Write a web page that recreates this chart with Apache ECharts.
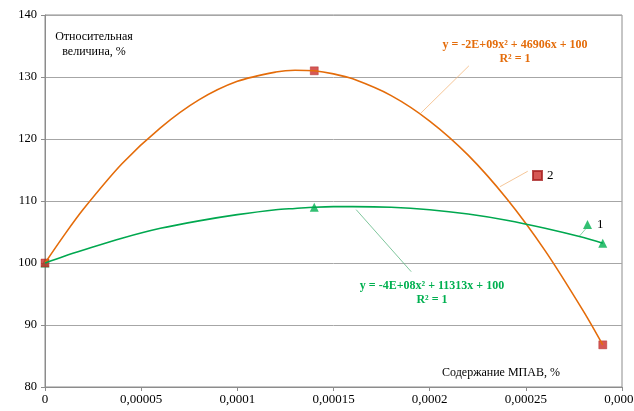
<!DOCTYPE html>
<html>
<head>
<meta charset="utf-8">
<script src="https://cdn.jsdelivr.net/npm/echarts@6/dist/echarts.min.js"></script>
<style>
html,body{margin:0;padding:0;background:#fff;}
#chart{width:634px;height:411px;}
</style>
</head>
<body>
<div id="chart"></div>
<script>
// Measured data points
var points1 = [[0, 100], [0.00014, 109], [0.00029, 103.2]];
var points2 = [[0, 100], [0.00014, 131], [0.00029, 86.8]];
// Trend curves
var trendX  = [0, 0.00001, 0.00002, 0.00004, 0.00006, 0.00008, 0.0001, 0.00012, 0.00013, 0.00014, 0.00015, 0.00016, 0.00018, 0.0002, 0.00022, 0.00024, 0.00026, 0.00028, 0.00029];
var trend1Y = [100, 101.1, 102.1, 104.0, 105.6, 106.8, 107.8, 108.6, 108.8, 109.0, 109.1, 109.1, 109.0, 108.6, 107.9, 106.9, 105.6, 104.1, 103.2];
var trend2Y = [100, 104.5, 108.7, 116.0, 121.8, 126.3, 129.3, 130.8, 131.1, 131.0, 130.5, 129.7, 127.0, 122.9, 117.4, 110.4, 102.0, 92.2, 86.8];
// Tick labels
var xTickLabels = ['0', '0,00005', '0,0001', '0,00015', '0,0002', '0,00025', '0,0003'];
var yTickLabels = ['80', '90', '100', '110', '120', '130', '140'];
// Leader lines (data coordinates)
var leaderEq2 = [[0.0002204, 131.8], [0.0001955, 124.2]];
var leaderLeg2 = [[0.000251, 114.8], [0.0002365, 112.3]];
var leaderLeg1 = [[0.0002811, 105.5], [0.0002775, 104.2]];
var leaderEq1 = [[0.0001618, 108.6], [0.0001904, 98.6]];

var FONT = 'Liberation Serif';
var ORANGE = '#E46C0A';
var GREEN = '#00A84F';

function zip(xs, ys) { return xs.map(function (x, i) { return [x, ys[i]]; }); }

var chart = echarts.init(document.getElementById('chart'), null, {renderer: 'canvas'});
chart.setOption({
  animation: false,
  backgroundColor: '#fff',
  grid: {left: 45, right: 12, top: 15, bottom: 24, outerBoundsMode: 'none', containLabel: false,
    show: true, borderColor: '#8c8c8c', borderWidth: 1, backgroundColor: 'transparent'},
  xAxis: {
    type: 'value', min: 0, max: 0.0003, interval: 0.00005,
    axisLine: {lineStyle: {color: '#8c8c8c'}},
    axisTick: {show: true, length: 4, lineStyle: {color: '#8c8c8c'}},
    splitLine: {show: false},
    axisLabel: {
      fontFamily: FONT, fontSize: 13, color: '#000', margin: 6, hideOverlap: false,
      formatter: function (v) { return xTickLabels[Math.round(v / 0.00005)]; }
    }
  },
  yAxis: {
    type: 'value', min: 80, max: 140, interval: 10,
    axisLine: {show: true, lineStyle: {color: '#8c8c8c'}},
    axisTick: {show: true, length: 4, lineStyle: {color: '#8c8c8c'}},
    splitLine: {show: true, lineStyle: {color: '#a6a6a6', width: 1}},
    axisLabel: {
      fontFamily: FONT, fontSize: 12.5, color: '#000', margin: 8,
      formatter: function (v) { return yTickLabels[Math.round((v - 80) / 10)]; }
    }
  },
  legend: [
    {data: ['2'], left: 527, top: 164, itemWidth: 9, itemHeight: 9, itemGap: 0, textStyle: {fontFamily: FONT, fontSize: 13, color: '#000'}},
    {data: ['1'], left: 578, top: 213, itemWidth: 9, itemHeight: 9, itemGap: 0, textStyle: {fontFamily: FONT, fontSize: 13, color: '#000'}}
  ],
  series: [
    {name: 't2', type: 'line', smooth: 0.3, showSymbol: false, data: zip(trendX, trend2Y), lineStyle: {color: ORANGE, width: 1.6}, silent: true},
    {name: 't1', type: 'line', smooth: 0.3, showSymbol: false, data: zip(trendX, trend1Y), lineStyle: {color: GREEN, width: 1.6}, silent: true},
    {name: 'leaders', type: 'lines', coordinateSystem: 'cartesian2d', silent: true, lineStyle: {width: 0.8, opacity: 1},
      data: [
        {coords: leaderEq2, lineStyle: {color: '#F2B77E'}},
        {coords: leaderLeg2, lineStyle: {color: '#F2B77E'}},
        {coords: leaderLeg1, lineStyle: {color: '#6CC68F'}},
        {coords: leaderEq1, lineStyle: {color: '#5FB884'}}
      ]},
    {name: '1', type: 'scatter', symbol: 'triangle', symbolSize: 9, data: points1, itemStyle: {color: '#00B050'}},
    {name: '2', type: 'scatter', symbol: 'rect', symbolSize: 8, data: points2, itemStyle: {color: '#CC2E2A', borderColor: '#A82020', borderWidth: 0.5}}
  ],
  graphic: [
    {type: 'text', x: 94, y: 44, style: {text: 'Относительная\nвеличина, %', fontFamily: FONT, fontSize: 12, fill: '#000', align: 'center', verticalAlign: 'middle', lineHeight: 15}},
    {type: 'text', x: 501, y: 373, style: {text: 'Содержание МПАВ, %', fontFamily: FONT, fontSize: 12, fill: '#000', align: 'center', verticalAlign: 'middle'}},
    {type: 'text', x: 515, y: 52, style: {text: 'y = -2E+09x² + 46906x + 100\nR² = 1', fontFamily: FONT, fontSize: 12, fontWeight: 'bold', fill: ORANGE, align: 'center', verticalAlign: 'middle', lineHeight: 14}},
    {type: 'text', x: 432, y: 293, style: {text: 'y = -4E+08x² + 11313x + 100\nR² = 1', fontFamily: FONT, fontSize: 12, fontWeight: 'bold', fill: '#00B050', align: 'center', verticalAlign: 'middle', lineHeight: 14}}
  ]
});
</script>
</body>
</html>
